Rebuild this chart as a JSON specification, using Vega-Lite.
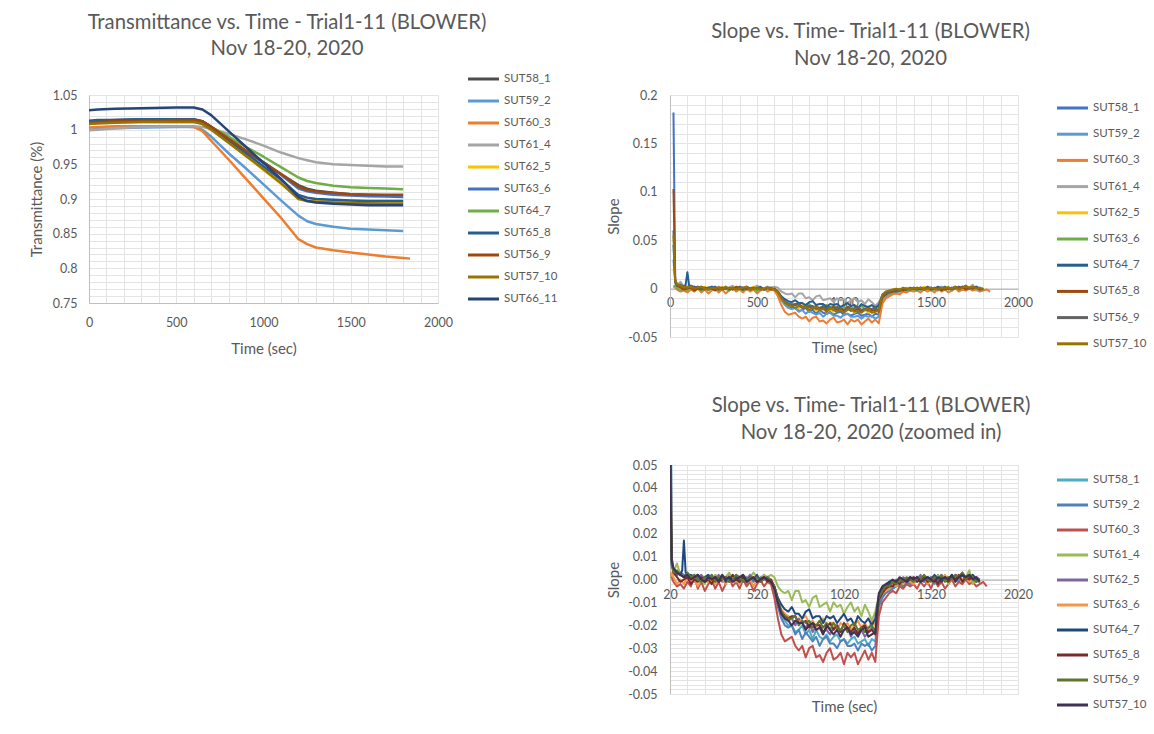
{
"$schema": "https://vega.github.io/schema/vega-lite/v6.json",
"background": "white",
"autosize": {"type": "none"},
"padding": {"left": 89, "top": 95, "right": 1065, "bottom": 639},
"config": {
  "font": "Lato",
  "view": {"stroke": null},
  "axis": {"labelFont": "Lato", "titleFont": "Lato", "labelColor": "#595959", "titleColor": "#595959", "labelFontSize": 12.5, "titleFontSize": 15, "titleFontWeight": "normal", "gridColor": "#e4e4e4", "domainColor": "#bfbfbf", "ticks": false, "labelFlush": false, "labelOverlap": false},
  "title": {"font": "Lato", "fontSize": 20.3, "fontWeight": "normal", "color": "#595959", "lineHeight": 26.5, "anchor": "middle", "frame": "group"},
  "legend": {"labelFont": "Lato", "labelFontSize": 11.5, "labelColor": "#595959", "orient": "none", "symbolType": "M -3.1 0 L 3.1 0", "symbolSize": 100, "symbolStrokeWidth": 3, "symbolOffset": 9, "labelOffset": 14, "padding": 0, "labelLimit": 200}
},
"datasets": {
"trans": [
{"t":0,"SUT58_1":1.011,"SUT59_2":1.000,"SUT60_3":1.003,"SUT61_4":0.999,"SUT62_5":1.009,"SUT63_6":1.012,"SUT64_7":1.012,"SUT65_8":1.013,"SUT56_9":1.010,"SUT57_10":1.008,"SUT66_11":1.028},
{"t":50,"SUT58_1":1.013,"SUT59_2":1.001,"SUT60_3":1.004,"SUT61_4":1.000,"SUT62_5":1.010,"SUT63_6":1.013,"SUT64_7":1.012,"SUT65_8":1.014,"SUT56_9":1.011,"SUT57_10":1.009,"SUT66_11":1.029},
{"t":150,"SUT58_1":1.014,"SUT59_2":1.002,"SUT60_3":1.005,"SUT61_4":1.002,"SUT62_5":1.011,"SUT63_6":1.013,"SUT64_7":1.013,"SUT65_8":1.014,"SUT56_9":1.012,"SUT57_10":1.010,"SUT66_11":1.030},
{"t":300,"SUT58_1":1.015,"SUT59_2":1.003,"SUT60_3":1.005,"SUT61_4":1.004,"SUT62_5":1.012,"SUT63_6":1.014,"SUT64_7":1.013,"SUT65_8":1.015,"SUT56_9":1.013,"SUT57_10":1.011,"SUT66_11":1.031},
{"t":500,"SUT58_1":1.015,"SUT59_2":1.004,"SUT60_3":1.005,"SUT61_4":1.005,"SUT62_5":1.012,"SUT63_6":1.014,"SUT64_7":1.013,"SUT65_8":1.015,"SUT56_9":1.014,"SUT57_10":1.011,"SUT66_11":1.032},
{"t":600,"SUT58_1":1.015,"SUT59_2":1.004,"SUT60_3":1.004,"SUT61_4":1.005,"SUT62_5":1.012,"SUT63_6":1.014,"SUT64_7":1.013,"SUT65_8":1.015,"SUT56_9":1.014,"SUT57_10":1.011,"SUT66_11":1.032},
{"t":650,"SUT58_1":1.012,"SUT59_2":1.000,"SUT60_3":0.998,"SUT61_4":1.004,"SUT62_5":1.009,"SUT63_6":1.012,"SUT64_7":1.011,"SUT65_8":1.012,"SUT56_9":1.012,"SUT57_10":1.008,"SUT66_11":1.029},
{"t":700,"SUT58_1":1.003,"SUT59_2":0.990,"SUT60_3":0.984,"SUT61_4":1.001,"SUT62_5":1.001,"SUT63_6":1.004,"SUT64_7":1.004,"SUT65_8":1.004,"SUT56_9":1.004,"SUT57_10":1.000,"SUT66_11":1.021},
{"t":800,"SUT58_1":0.986,"SUT59_2":0.966,"SUT60_3":0.957,"SUT61_4":0.994,"SUT62_5":0.982,"SUT63_6":0.987,"SUT64_7":0.990,"SUT65_8":0.985,"SUT56_9":0.987,"SUT57_10":0.981,"SUT66_11":0.998},
{"t":900,"SUT58_1":0.969,"SUT59_2":0.944,"SUT60_3":0.929,"SUT61_4":0.986,"SUT62_5":0.962,"SUT63_6":0.969,"SUT64_7":0.975,"SUT65_8":0.966,"SUT56_9":0.970,"SUT57_10":0.962,"SUT66_11":0.975},
{"t":1000,"SUT58_1":0.953,"SUT59_2":0.921,"SUT60_3":0.901,"SUT61_4":0.977,"SUT62_5":0.942,"SUT63_6":0.952,"SUT64_7":0.961,"SUT65_8":0.947,"SUT56_9":0.953,"SUT57_10":0.943,"SUT66_11":0.952},
{"t":1100,"SUT58_1":0.936,"SUT59_2":0.898,"SUT60_3":0.873,"SUT61_4":0.967,"SUT62_5":0.922,"SUT63_6":0.935,"SUT64_7":0.946,"SUT65_8":0.928,"SUT56_9":0.936,"SUT57_10":0.923,"SUT66_11":0.929},
{"t":1200,"SUT58_1":0.920,"SUT59_2":0.876,"SUT60_3":0.842,"SUT61_4":0.959,"SUT62_5":0.902,"SUT63_6":0.915,"SUT64_7":0.931,"SUT65_8":0.906,"SUT56_9":0.918,"SUT57_10":0.900,"SUT66_11":0.903},
{"t":1250,"SUT58_1":0.915,"SUT59_2":0.868,"SUT60_3":0.835,"SUT61_4":0.956,"SUT62_5":0.899,"SUT63_6":0.911,"SUT64_7":0.926,"SUT65_8":0.902,"SUT56_9":0.913,"SUT57_10":0.897,"SUT66_11":0.897},
{"t":1300,"SUT58_1":0.912,"SUT59_2":0.864,"SUT60_3":0.830,"SUT61_4":0.953,"SUT62_5":0.898,"SUT63_6":0.909,"SUT64_7":0.923,"SUT65_8":0.900,"SUT56_9":0.911,"SUT57_10":0.896,"SUT66_11":0.895},
{"t":1400,"SUT58_1":0.909,"SUT59_2":0.860,"SUT60_3":0.826,"SUT61_4":0.950,"SUT62_5":0.897,"SUT63_6":0.906,"SUT64_7":0.919,"SUT65_8":0.899,"SUT56_9":0.909,"SUT57_10":0.895,"SUT66_11":0.893},
{"t":1500,"SUT58_1":0.907,"SUT59_2":0.857,"SUT60_3":0.823,"SUT61_4":0.949,"SUT62_5":0.896,"SUT63_6":0.905,"SUT64_7":0.917,"SUT65_8":0.898,"SUT56_9":0.907,"SUT57_10":0.894,"SUT66_11":0.892},
{"t":1600,"SUT58_1":0.906,"SUT59_2":0.856,"SUT60_3":0.820,"SUT61_4":0.948,"SUT62_5":0.8955,"SUT63_6":0.904,"SUT64_7":0.916,"SUT65_8":0.897,"SUT56_9":0.906,"SUT57_10":0.894,"SUT66_11":0.891},
{"t":1700,"SUT58_1":0.9055,"SUT59_2":0.855,"SUT60_3":0.817,"SUT61_4":0.947,"SUT62_5":0.895,"SUT63_6":0.9035,"SUT64_7":0.915,"SUT65_8":0.897,"SUT56_9":0.906,"SUT57_10":0.893,"SUT66_11":0.891},
{"t":1800,"SUT58_1":0.905,"SUT59_2":0.854,"SUT60_3":0.815,"SUT61_4":0.947,"SUT62_5":0.895,"SUT63_6":0.903,"SUT64_7":0.914,"SUT65_8":0.897,"SUT56_9":0.906,"SUT57_10":0.893,"SUT66_11":0.891},
{"t":1840,"SUT60_3":0.814}
],
"slope": [
{"t":20,"SUT58_1":0.182,"SUT59_2":0.03,"SUT60_3":0.002,"SUT61_4":0.001,"SUT62_5":0.02,"SUT63_6":0.003,"SUT64_7":0.045,"SUT65_8":0.103,"SUT56_9":0.06,"SUT57_10":0.055},
{"t":30,"SUT58_1":0.008,"SUT59_2":0.006,"SUT60_3":0.001,"SUT61_4":0.002,"SUT62_5":0.01,"SUT63_6":0.003,"SUT64_7":0.007,"SUT65_8":0.009,"SUT56_9":0.006,"SUT57_10":0.008},
{"t":40,"SUT58_1":0.005,"SUT59_2":0.004,"SUT60_3":-0.001,"SUT61_4":0.003,"SUT62_5":0.004,"SUT63_6":0.001,"SUT64_7":0.004,"SUT65_8":0.003,"SUT56_9":0.003,"SUT57_10":0.005},
{"t":60,"SUT58_1":0.003,"SUT59_2":0.002,"SUT60_3":-0.003,"SUT61_4":0.007,"SUT62_5":0.002,"SUT63_6":-0.002,"SUT64_7":0.003,"SUT65_8":0.001,"SUT56_9":0.004,"SUT57_10":0.003},
{"t":80,"SUT58_1":0.002,"SUT59_2":0.003,"SUT60_3":-0.002,"SUT61_4":0.002,"SUT62_5":0.003,"SUT63_6":0,"SUT64_7":0.002,"SUT65_8":-0.001,"SUT56_9":0.002,"SUT57_10":0.002},
{"t":90,"SUT64_7":0.004},
{"t":100,"SUT58_1":0.001,"SUT59_2":0.002,"SUT60_3":-0.004,"SUT61_4":0.001,"SUT62_5":0.001,"SUT63_6":-0.002,"SUT64_7":0.017,"SUT65_8":0,"SUT56_9":0.001,"SUT57_10":0.001},
{"t":110,"SUT64_7":0.003},
{"t":120,"SUT58_1":0.003,"SUT59_2":0.001,"SUT60_3":-0.001,"SUT61_4":0.002,"SUT62_5":0.002,"SUT63_6":0.001,"SUT64_7":0.002,"SUT65_8":0.001,"SUT56_9":0.003,"SUT57_10":0.002},
{"t":140,"SUT58_1":0.001,"SUT59_2":0.002,"SUT60_3":-0.003,"SUT61_4":0,"SUT62_5":0.001,"SUT63_6":-0.001,"SUT64_7":0.002,"SUT65_8":-0.002,"SUT56_9":0.001,"SUT57_10":0},
{"t":160,"SUT58_1":0.002,"SUT59_2":0,"SUT60_3":0.001,"SUT61_4":0.001,"SUT62_5":-0.001,"SUT63_6":0,"SUT64_7":0.001,"SUT65_8":0,"SUT56_9":0.002,"SUT57_10":0.001},
{"t":180,"SUT58_1":0,"SUT59_2":0.001,"SUT60_3":-0.004,"SUT61_4":0.002,"SUT62_5":0.001,"SUT63_6":-0.003,"SUT64_7":0.002,"SUT65_8":-0.001,"SUT56_9":0,"SUT57_10":0.002},
{"t":200,"SUT58_1":0.001,"SUT59_2":-0.001,"SUT60_3":-0.001,"SUT61_4":0,"SUT62_5":0.002,"SUT63_6":0,"SUT64_7":0,"SUT65_8":0.001,"SUT56_9":-0.001,"SUT57_10":0},
{"t":220,"SUT58_1":-0.001,"SUT59_2":0.001,"SUT60_3":-0.005,"SUT61_4":-0.002,"SUT62_5":0,"SUT63_6":0.001,"SUT64_7":0.001,"SUT65_8":-0.001,"SUT56_9":0.001,"SUT57_10":-0.001},
{"t":240,"SUT58_1":0.002,"SUT59_2":0,"SUT60_3":-0.002,"SUT61_4":0.001,"SUT62_5":-0.001,"SUT63_6":-0.001,"SUT64_7":0.002,"SUT65_8":0,"SUT56_9":0,"SUT57_10":0.001},
{"t":260,"SUT58_1":0,"SUT59_2":0.002,"SUT60_3":0,"SUT61_4":0,"SUT62_5":0.001,"SUT63_6":0,"SUT64_7":0,"SUT65_8":-0.002,"SUT56_9":0.002,"SUT57_10":0},
{"t":280,"SUT58_1":0.001,"SUT59_2":-0.001,"SUT60_3":-0.004,"SUT61_4":0.002,"SUT62_5":0,"SUT63_6":-0.002,"SUT64_7":0.001,"SUT65_8":0.001,"SUT56_9":-0.001,"SUT57_10":0.001},
{"t":300,"SUT58_1":-0.001,"SUT59_2":0,"SUT60_3":-0.001,"SUT61_4":0.001,"SUT62_5":0.002,"SUT63_6":0.001,"SUT64_7":0,"SUT65_8":-0.001,"SUT56_9":0.001,"SUT57_10":-0.001},
{"t":320,"SUT58_1":0.001,"SUT59_2":0.001,"SUT60_3":-0.005,"SUT61_4":0,"SUT62_5":-0.001,"SUT63_6":0,"SUT64_7":0.002,"SUT65_8":0,"SUT56_9":0,"SUT57_10":0.002},
{"t":340,"SUT58_1":0,"SUT59_2":-0.002,"SUT60_3":-0.002,"SUT61_4":0.001,"SUT62_5":0.001,"SUT63_6":-0.002,"SUT64_7":-0.001,"SUT65_8":0.001,"SUT56_9":0.001,"SUT57_10":0},
{"t":360,"SUT58_1":0.002,"SUT59_2":0.001,"SUT60_3":0.001,"SUT61_4":0.003,"SUT62_5":0,"SUT63_6":0.001,"SUT64_7":0.001,"SUT65_8":-0.001,"SUT56_9":-0.001,"SUT57_10":0.001},
{"t":380,"SUT58_1":-0.001,"SUT59_2":0,"SUT60_3":-0.003,"SUT61_4":0,"SUT62_5":0.002,"SUT63_6":-0.001,"SUT64_7":0,"SUT65_8":0.002,"SUT56_9":0,"SUT57_10":-0.001},
{"t":400,"SUT58_1":0.001,"SUT59_2":0.002,"SUT60_3":-0.001,"SUT61_4":-0.001,"SUT62_5":0,"SUT63_6":0,"SUT64_7":0.001,"SUT65_8":0,"SUT56_9":0.002,"SUT57_10":0},
{"t":420,"SUT58_1":0,"SUT59_2":-0.001,"SUT60_3":-0.004,"SUT61_4":0.001,"SUT62_5":0.001,"SUT63_6":-0.002,"SUT64_7":-0.001,"SUT65_8":-0.001,"SUT56_9":0.001,"SUT57_10":0.001},
{"t":440,"SUT58_1":0.001,"SUT59_2":0,"SUT60_3":0,"SUT61_4":0.002,"SUT62_5":-0.001,"SUT63_6":0.001,"SUT64_7":0.002,"SUT65_8":0.001,"SUT56_9":-0.001,"SUT57_10":0.002},
{"t":460,"SUT58_1":-0.002,"SUT59_2":0.001,"SUT60_3":-0.003,"SUT61_4":0,"SUT62_5":0,"SUT63_6":-0.001,"SUT64_7":0,"SUT65_8":-0.001,"SUT56_9":0,"SUT57_10":-0.001},
{"t":480,"SUT58_1":0.001,"SUT59_2":0,"SUT60_3":-0.001,"SUT61_4":0.001,"SUT62_5":0.002,"SUT63_6":0,"SUT64_7":0.001,"SUT65_8":0,"SUT56_9":0.001,"SUT57_10":0},
{"t":500,"SUT58_1":0,"SUT59_2":-0.001,"SUT60_3":-0.005,"SUT61_4":0.003,"SUT62_5":0,"SUT63_6":-0.003,"SUT64_7":0,"SUT65_8":0.001,"SUT56_9":0,"SUT57_10":0.001},
{"t":520,"SUT58_1":0.001,"SUT59_2":0.001,"SUT60_3":-0.002,"SUT61_4":0.001,"SUT62_5":-0.001,"SUT63_6":0,"SUT64_7":0.002,"SUT65_8":-0.001,"SUT56_9":0.001,"SUT57_10":-0.001},
{"t":540,"SUT58_1":-0.001,"SUT59_2":0,"SUT60_3":0,"SUT61_4":0,"SUT62_5":0.001,"SUT63_6":-0.001,"SUT64_7":-0.001,"SUT65_8":0,"SUT56_9":-0.001,"SUT57_10":0},
{"t":560,"SUT58_1":0.001,"SUT59_2":0.002,"SUT60_3":-0.003,"SUT61_4":0.002,"SUT62_5":0,"SUT63_6":0.001,"SUT64_7":0.001,"SUT65_8":0.001,"SUT56_9":0,"SUT57_10":0.001},
{"t":580,"SUT58_1":0,"SUT59_2":0,"SUT60_3":-0.001,"SUT61_4":0.001,"SUT62_5":0.001,"SUT63_6":-0.001,"SUT64_7":0,"SUT65_8":-0.001,"SUT56_9":0.001,"SUT57_10":0},
{"t":600,"SUT58_1":-0.001,"SUT59_2":-0.001,"SUT60_3":-0.002,"SUT61_4":0.002,"SUT62_5":0,"SUT63_6":0,"SUT64_7":-0.001,"SUT65_8":0,"SUT56_9":-0.001,"SUT57_10":-0.001},
{"t":620,"SUT58_1":-0.004,"SUT59_2":-0.005,"SUT60_3":-0.008,"SUT61_4":0.001,"SUT62_5":-0.004,"SUT63_6":-0.003,"SUT64_7":-0.003,"SUT65_8":-0.003,"SUT56_9":-0.003,"SUT57_10":-0.004},
{"t":640,"SUT58_1":-0.011,"SUT59_2":-0.012,"SUT60_3":-0.017,"SUT61_4":-0.003,"SUT62_5":-0.01,"SUT63_6":-0.009,"SUT64_7":-0.008,"SUT65_8":-0.01,"SUT56_9":-0.009,"SUT57_10":-0.01},
{"t":660,"SUT58_1":-0.016,"SUT59_2":-0.017,"SUT60_3":-0.024,"SUT61_4":-0.005,"SUT62_5":-0.015,"SUT63_6":-0.013,"SUT64_7":-0.011,"SUT65_8":-0.014,"SUT56_9":-0.014,"SUT57_10":-0.015},
{"t":680,"SUT58_1":-0.018,"SUT59_2":-0.02,"SUT60_3":-0.027,"SUT61_4":-0.006,"SUT62_5":-0.017,"SUT63_6":-0.015,"SUT64_7":-0.013,"SUT65_8":-0.016,"SUT56_9":-0.016,"SUT57_10":-0.017},
{"t":700,"SUT58_1":-0.02,"SUT59_2":-0.021,"SUT60_3":-0.026,"SUT61_4":-0.005,"SUT62_5":-0.018,"SUT63_6":-0.016,"SUT64_7":-0.014,"SUT65_8":-0.017,"SUT56_9":-0.017,"SUT57_10":-0.018},
{"t":720,"SUT58_1":-0.02,"SUT59_2":-0.02,"SUT60_3":-0.025,"SUT61_4":-0.009,"SUT62_5":-0.017,"SUT63_6":-0.017,"SUT64_7":-0.012,"SUT65_8":-0.016,"SUT56_9":-0.017,"SUT57_10":-0.02},
{"t":740,"SUT58_1":-0.023,"SUT59_2":-0.024,"SUT60_3":-0.029,"SUT61_4":-0.005,"SUT62_5":-0.02,"SUT63_6":-0.016,"SUT64_7":-0.015,"SUT65_8":-0.016,"SUT56_9":-0.016,"SUT57_10":-0.018},
{"t":760,"SUT58_1":-0.022,"SUT59_2":-0.022,"SUT60_3":-0.031,"SUT61_4":-0.005,"SUT62_5":-0.017,"SUT63_6":-0.019,"SUT64_7":-0.015,"SUT65_8":-0.019,"SUT56_9":-0.02,"SUT57_10":-0.019},
{"t":780,"SUT58_1":-0.02,"SUT59_2":-0.026,"SUT60_3":-0.029,"SUT61_4":-0.01,"SUT62_5":-0.019,"SUT63_6":-0.017,"SUT64_7":-0.017,"SUT65_8":-0.019,"SUT56_9":-0.018,"SUT57_10":-0.019},
{"t":800,"SUT58_1":-0.024,"SUT59_2":-0.023,"SUT60_3":-0.034,"SUT61_4":-0.009,"SUT62_5":-0.021,"SUT63_6":-0.016,"SUT64_7":-0.014,"SUT65_8":-0.018,"SUT56_9":-0.019,"SUT57_10":-0.022},
{"t":820,"SUT58_1":-0.022,"SUT59_2":-0.025,"SUT60_3":-0.03,"SUT61_4":-0.012,"SUT62_5":-0.019,"SUT63_6":-0.019,"SUT64_7":-0.013,"SUT65_8":-0.021,"SUT56_9":-0.018,"SUT57_10":-0.02},
{"t":840,"SUT58_1":-0.026,"SUT59_2":-0.027,"SUT60_3":-0.029,"SUT61_4":-0.008,"SUT62_5":-0.023,"SUT63_6":-0.018,"SUT64_7":-0.017,"SUT65_8":-0.019,"SUT56_9":-0.021,"SUT57_10":-0.019},
{"t":860,"SUT58_1":-0.022,"SUT59_2":-0.025,"SUT60_3":-0.034,"SUT61_4":-0.007,"SUT62_5":-0.02,"SUT63_6":-0.021,"SUT64_7":-0.016,"SUT65_8":-0.02,"SUT56_9":-0.02,"SUT57_10":-0.022},
{"t":880,"SUT58_1":-0.025,"SUT59_2":-0.029,"SUT60_3":-0.033,"SUT61_4":-0.012,"SUT62_5":-0.02,"SUT63_6":-0.018,"SUT64_7":-0.016,"SUT65_8":-0.02,"SUT56_9":-0.018,"SUT57_10":-0.021},
{"t":900,"SUT58_1":-0.026,"SUT59_2":-0.026,"SUT60_3":-0.036,"SUT61_4":-0.011,"SUT62_5":-0.023,"SUT63_6":-0.017,"SUT64_7":-0.019,"SUT65_8":-0.023,"SUT56_9":-0.021,"SUT57_10":-0.024},
{"t":920,"SUT58_1":-0.024,"SUT59_2":-0.025,"SUT60_3":-0.032,"SUT61_4":-0.01,"SUT62_5":-0.022,"SUT63_6":-0.02,"SUT64_7":-0.016,"SUT65_8":-0.021,"SUT56_9":-0.019,"SUT57_10":-0.02},
{"t":940,"SUT58_1":-0.027,"SUT59_2":-0.028,"SUT60_3":-0.03,"SUT61_4":-0.014,"SUT62_5":-0.024,"SUT63_6":-0.019,"SUT64_7":-0.017,"SUT65_8":-0.019,"SUT56_9":-0.022,"SUT57_10":-0.022},
{"t":960,"SUT58_1":-0.025,"SUT59_2":-0.028,"SUT60_3":-0.035,"SUT61_4":-0.01,"SUT62_5":-0.021,"SUT63_6":-0.019,"SUT64_7":-0.016,"SUT65_8":-0.022,"SUT56_9":-0.019,"SUT57_10":-0.024},
{"t":980,"SUT58_1":-0.024,"SUT59_2":-0.03,"SUT60_3":-0.034,"SUT61_4":-0.012,"SUT62_5":-0.02,"SUT63_6":-0.022,"SUT64_7":-0.019,"SUT65_8":-0.02,"SUT56_9":-0.021,"SUT57_10":-0.022},
{"t":1000,"SUT58_1":-0.027,"SUT59_2":-0.027,"SUT60_3":-0.032,"SUT61_4":-0.011,"SUT62_5":-0.023,"SUT63_6":-0.019,"SUT64_7":-0.017,"SUT65_8":-0.023,"SUT56_9":-0.022,"SUT57_10":-0.025},
{"t":1020,"SUT58_1":-0.026,"SUT59_2":-0.026,"SUT60_3":-0.037,"SUT61_4":-0.015,"SUT62_5":-0.022,"SUT63_6":-0.02,"SUT64_7":-0.015,"SUT65_8":-0.019,"SUT56_9":-0.02,"SUT57_10":-0.022},
{"t":1040,"SUT58_1":-0.028,"SUT59_2":-0.029,"SUT60_3":-0.032,"SUT61_4":-0.012,"SUT62_5":-0.021,"SUT63_6":-0.019,"SUT64_7":-0.018,"SUT65_8":-0.021,"SUT56_9":-0.023,"SUT57_10":-0.021},
{"t":1060,"SUT58_1":-0.026,"SUT59_2":-0.029,"SUT60_3":-0.034,"SUT61_4":-0.01,"SUT62_5":-0.025,"SUT63_6":-0.022,"SUT64_7":-0.017,"SUT65_8":-0.023,"SUT56_9":-0.02,"SUT57_10":-0.024},
{"t":1080,"SUT58_1":-0.025,"SUT59_2":-0.028,"SUT60_3":-0.032,"SUT61_4":-0.014,"SUT62_5":-0.022,"SUT63_6":-0.02,"SUT64_7":-0.02,"SUT65_8":-0.021,"SUT56_9":-0.019,"SUT57_10":-0.023},
{"t":1100,"SUT58_1":-0.028,"SUT59_2":-0.031,"SUT60_3":-0.037,"SUT61_4":-0.012,"SUT62_5":-0.023,"SUT63_6":-0.018,"SUT64_7":-0.016,"SUT65_8":-0.024,"SUT56_9":-0.022,"SUT57_10":-0.025},
{"t":1120,"SUT58_1":-0.027,"SUT59_2":-0.028,"SUT60_3":-0.034,"SUT61_4":-0.016,"SUT62_5":-0.022,"SUT63_6":-0.021,"SUT64_7":-0.018,"SUT65_8":-0.021,"SUT56_9":-0.021,"SUT57_10":-0.022},
{"t":1140,"SUT58_1":-0.026,"SUT59_2":-0.029,"SUT60_3":-0.031,"SUT61_4":-0.011,"SUT62_5":-0.025,"SUT63_6":-0.019,"SUT64_7":-0.019,"SUT65_8":-0.02,"SUT56_9":-0.023,"SUT57_10":-0.021},
{"t":1160,"SUT58_1":-0.029,"SUT59_2":-0.028,"SUT60_3":-0.035,"SUT61_4":-0.014,"SUT62_5":-0.023,"SUT63_6":-0.022,"SUT64_7":-0.017,"SUT65_8":-0.023,"SUT56_9":-0.021,"SUT57_10":-0.025},
{"t":1180,"SUT58_1":-0.026,"SUT59_2":-0.031,"SUT60_3":-0.032,"SUT61_4":-0.018,"SUT62_5":-0.021,"SUT63_6":-0.018,"SUT64_7":-0.02,"SUT65_8":-0.022,"SUT56_9":-0.02,"SUT57_10":-0.024},
{"t":1200,"SUT58_1":-0.027,"SUT59_2":-0.029,"SUT60_3":-0.036,"SUT61_4":-0.014,"SUT62_5":-0.024,"SUT63_6":-0.02,"SUT64_7":-0.017,"SUT65_8":-0.024,"SUT56_9":-0.023,"SUT57_10":-0.023},
{"t":1220,"SUT58_1":-0.01,"SUT59_2":-0.012,"SUT60_3":-0.016,"SUT61_4":-0.007,"SUT62_5":-0.008,"SUT63_6":-0.009,"SUT64_7":-0.007,"SUT65_8":-0.009,"SUT56_9":-0.008,"SUT57_10":-0.006},
{"t":1240,"SUT58_1":-0.007,"SUT59_2":-0.008,"SUT60_3":-0.01,"SUT61_4":-0.005,"SUT62_5":-0.004,"SUT63_6":-0.006,"SUT64_7":-0.004,"SUT65_8":-0.006,"SUT56_9":-0.005,"SUT57_10":-0.003},
{"t":1260,"SUT58_1":-0.005,"SUT59_2":-0.006,"SUT60_3":-0.008,"SUT61_4":-0.004,"SUT62_5":-0.003,"SUT63_6":-0.005,"SUT64_7":-0.003,"SUT65_8":-0.004,"SUT56_9":-0.003,"SUT57_10":-0.002},
{"t":1280,"SUT58_1":-0.004,"SUT59_2":-0.005,"SUT60_3":-0.006,"SUT61_4":-0.003,"SUT62_5":-0.001,"SUT63_6":-0.004,"SUT64_7":-0.002,"SUT65_8":-0.003,"SUT56_9":-0.003,"SUT57_10":-0.001},
{"t":1300,"SUT58_1":-0.003,"SUT59_2":-0.004,"SUT60_3":-0.005,"SUT61_4":-0.002,"SUT62_5":-0.002,"SUT63_6":-0.002,"SUT64_7":-0.001,"SUT65_8":-0.003,"SUT56_9":-0.001,"SUT57_10":0},
{"t":1320,"SUT58_1":-0.002,"SUT59_2":-0.003,"SUT60_3":-0.006,"SUT61_4":-0.001,"SUT62_5":0,"SUT63_6":-0.003,"SUT64_7":-0.002,"SUT65_8":-0.001,"SUT56_9":-0.002,"SUT57_10":-0.001},
{"t":1340,"SUT58_1":-0.003,"SUT59_2":-0.002,"SUT60_3":-0.003,"SUT61_4":-0.002,"SUT62_5":-0.001,"SUT63_6":-0.001,"SUT64_7":0,"SUT65_8":-0.002,"SUT56_9":0,"SUT57_10":0.001},
{"t":1360,"SUT58_1":-0.001,"SUT59_2":-0.003,"SUT60_3":-0.004,"SUT61_4":0,"SUT62_5":0.001,"SUT63_6":-0.002,"SUT64_7":-0.001,"SUT65_8":0,"SUT56_9":-0.001,"SUT57_10":0},
{"t":1380,"SUT58_1":-0.002,"SUT59_2":-0.001,"SUT60_3":-0.002,"SUT61_4":-0.001,"SUT62_5":0,"SUT63_6":0,"SUT64_7":0,"SUT65_8":-0.001,"SUT56_9":0.001,"SUT57_10":-0.001},
{"t":1400,"SUT58_1":0,"SUT59_2":-0.002,"SUT60_3":-0.003,"SUT61_4":0.001,"SUT62_5":-0.001,"SUT63_6":-0.001,"SUT64_7":0.001,"SUT65_8":0,"SUT56_9":0,"SUT57_10":0.001},
{"t":1420,"SUT58_1":-0.001,"SUT59_2":0,"SUT60_3":-0.002,"SUT61_4":0,"SUT62_5":0.001,"SUT63_6":-0.002,"SUT64_7":0,"SUT65_8":0.001,"SUT56_9":-0.001,"SUT57_10":0},
{"t":1440,"SUT58_1":0.001,"SUT59_2":-0.001,"SUT60_3":-0.004,"SUT61_4":0.001,"SUT62_5":0,"SUT63_6":0,"SUT64_7":0.001,"SUT65_8":-0.001,"SUT56_9":0.001,"SUT57_10":0.001},
{"t":1460,"SUT58_1":0,"SUT59_2":0.001,"SUT60_3":-0.001,"SUT61_4":-0.001,"SUT62_5":0.002,"SUT63_6":-0.001,"SUT64_7":-0.001,"SUT65_8":0,"SUT56_9":0,"SUT57_10":-0.001},
{"t":1480,"SUT58_1":-0.001,"SUT59_2":0,"SUT60_3":-0.003,"SUT61_4":0.002,"SUT62_5":-0.001,"SUT63_6":0.001,"SUT64_7":0,"SUT65_8":0.001,"SUT56_9":0.002,"SUT57_10":0},
{"t":1500,"SUT58_1":0.001,"SUT59_2":-0.002,"SUT60_3":-0.001,"SUT61_4":0,"SUT62_5":0,"SUT63_6":-0.002,"SUT64_7":0.001,"SUT65_8":-0.001,"SUT56_9":0,"SUT57_10":0.001},
{"t":1520,"SUT58_1":0,"SUT59_2":0.001,"SUT60_3":-0.004,"SUT61_4":0.001,"SUT62_5":0.001,"SUT63_6":0,"SUT64_7":0,"SUT65_8":0,"SUT56_9":-0.001,"SUT57_10":0},
{"t":1540,"SUT58_1":-0.002,"SUT59_2":0,"SUT60_3":0,"SUT61_4":-0.001,"SUT62_5":0,"SUT63_6":0.001,"SUT64_7":0.002,"SUT65_8":0.001,"SUT56_9":0.001,"SUT57_10":-0.001},
{"t":1560,"SUT58_1":0.001,"SUT59_2":0.002,"SUT60_3":-0.003,"SUT61_4":0.002,"SUT62_5":-0.001,"SUT63_6":-0.001,"SUT64_7":0,"SUT65_8":-0.002,"SUT56_9":0,"SUT57_10":0.001},
{"t":1580,"SUT58_1":0,"SUT59_2":-0.001,"SUT60_3":-0.001,"SUT61_4":0,"SUT62_5":0.002,"SUT63_6":0,"SUT64_7":-0.001,"SUT65_8":0.001,"SUT56_9":0.002,"SUT57_10":0},
{"t":1600,"SUT58_1":0.001,"SUT59_2":0,"SUT60_3":-0.004,"SUT61_4":0.001,"SUT62_5":0,"SUT63_6":0.002,"SUT64_7":0.001,"SUT65_8":0,"SUT56_9":-0.001,"SUT57_10":0.001},
{"t":1620,"SUT58_1":-0.001,"SUT59_2":0.001,"SUT60_3":-0.002,"SUT61_4":-0.002,"SUT62_5":0.001,"SUT63_6":-0.001,"SUT64_7":0,"SUT65_8":-0.001,"SUT56_9":0.001,"SUT57_10":0},
{"t":1640,"SUT58_1":0.002,"SUT59_2":0,"SUT60_3":0,"SUT61_4":0.001,"SUT62_5":0,"SUT63_6":0.001,"SUT64_7":0.002,"SUT65_8":0.001,"SUT56_9":0,"SUT57_10":0.002},
{"t":1660,"SUT58_1":0,"SUT59_2":0.001,"SUT60_3":-0.003,"SUT61_4":-0.001,"SUT62_5":0.002,"SUT63_6":0,"SUT64_7":0,"SUT65_8":0,"SUT56_9":0.002,"SUT57_10":-0.001},
{"t":1680,"SUT58_1":0.001,"SUT59_2":-0.001,"SUT60_3":-0.001,"SUT61_4":0.002,"SUT62_5":0.001,"SUT63_6":0.002,"SUT64_7":0.001,"SUT65_8":0.002,"SUT56_9":0.001,"SUT57_10":0.001},
{"t":1700,"SUT58_1":-0.001,"SUT59_2":0.002,"SUT60_3":-0.002,"SUT61_4":-0.001,"SUT62_5":0.003,"SUT63_6":0,"SUT64_7":0.002,"SUT65_8":-0.001,"SUT56_9":0.003,"SUT57_10":0.002},
{"t":1720,"SUT58_1":0.001,"SUT59_2":0,"SUT60_3":0,"SUT61_4":0.001,"SUT62_5":0.001,"SUT63_6":0.001,"SUT64_7":0,"SUT65_8":0.001,"SUT56_9":0,"SUT57_10":0.001},
{"t":1740,"SUT58_1":0,"SUT59_2":0.001,"SUT60_3":-0.002,"SUT61_4":0.004,"SUT62_5":0.002,"SUT63_6":-0.001,"SUT64_7":0.001,"SUT65_8":0,"SUT56_9":0.002,"SUT57_10":0.002},
{"t":1760,"SUT58_1":0.002,"SUT59_2":-0.001,"SUT60_3":-0.001,"SUT61_4":-0.002,"SUT62_5":0,"SUT63_6":0.001,"SUT64_7":0.002,"SUT65_8":0.001,"SUT56_9":0.001,"SUT57_10":0},
{"t":1780,"SUT58_1":0,"SUT59_2":0.001,"SUT60_3":-0.003,"SUT61_4":0,"SUT62_5":0.001,"SUT63_6":0,"SUT64_7":0,"SUT65_8":-0.001,"SUT56_9":-0.001,"SUT57_10":0.001},
{"t":1800,"SUT58_1":-0.001,"SUT59_2":0,"SUT60_3":-0.002,"SUT61_4":-0.001,"SUT62_5":0,"SUT63_6":-0.001,"SUT64_7":-0.001,"SUT65_8":0,"SUT56_9":0,"SUT57_10":-0.001},
{"t":1820,"SUT60_3":-0.001},
{"t":1840,"SUT60_3":-0.003}
]
},
"resolve": {"scale": {"color": "independent"}, "legend": {"color": "independent"}},
"bounds": "flush",
"spacing": 232,
"hconcat": [
{
  "width": 349, "height": 208,
  "data": {"name": "trans"},
  "transform": [
    {"fold": ["SUT58_1","SUT59_2","SUT60_3","SUT61_4","SUT62_5","SUT63_6","SUT64_7","SUT65_8","SUT56_9","SUT57_10","SUT66_11"], "as": ["series","v"]},
    {"filter": {"field": "v", "valid": true}}
  ],
  "title": {"text": ["Transmittance vs. Time - Trial1-11 (BLOWER)", "Nov 18-20, 2020"], "dx": 23.5, "offset": 13},
  "mark": {"type": "line", "strokeWidth": 2.5, "clip": true, "strokeJoin": "round"},
  "encoding": {
    "x": {"field": "t", "type": "quantitative", "scale": {"domain": [0, 2000], "nice": false, "zero": false},
      "axis": {"values": [0,100,200,300,400,500,600,700,800,900,1000,1100,1200,1300,1400,1500,1600,1700,1800,1900,2000], "labelExpr": "datum.value % 500 == 0 ? datum.value + '' : ''", "grid": true, "domain": true, "labelPadding": 13, "title": "Time (sec)", "titleY": 45, "titleBaseline": "middle"}},
    "y": {"field": "v", "type": "quantitative", "scale": {"domain": [0.75, 1.05], "nice": false, "zero": false},
      "axis": {"values": [0.75,0.76,0.77,0.78,0.79,0.8,0.81,0.82,0.83,0.84,0.85,0.86,0.87,0.88,0.89,0.9,0.91,0.92,0.93,0.94,0.95,0.96,0.97,0.98,0.99,1,1.01,1.02,1.03,1.04,1.05], "labelExpr": "round(datum.value*100) % 5 == 0 ? datum.value + '' : ''", "grid": true, "domain": true, "labelPadding": 12, "title": "Transmittance (%)", "titleX": -53, "titleY": 104, "titleBaseline": "middle"}},
    "color": {"field": "series", "type": "nominal",
      "scale": {"domain": ["SUT58_1","SUT59_2","SUT60_3","SUT61_4","SUT62_5","SUT63_6","SUT64_7","SUT65_8","SUT56_9","SUT57_10","SUT66_11"], "range": ["#4d4d4d","#5b9bd5","#ed7d31","#a5a5a5","#ffc000","#4472c4","#70ad47","#255e91","#9e480e","#997300","#264478"]},
      "legend": {"title": null, "legendX": 379, "legendY": -22.5, "rowPadding": 9}}
  }
},
{
  "resolve": {"scale": {"color": "independent"}, "legend": {"color": "independent"}},
  "bounds": "flush",
  "spacing": 128,
  "vconcat": [
  {
    "width": 348, "height": 242,
    "data": {"name": "slope"},
    "transform": [
      {"fold": ["SUT58_1","SUT59_2","SUT60_3","SUT61_4","SUT62_5","SUT63_6","SUT64_7","SUT65_8","SUT56_9","SUT57_10"], "as": ["series","v"]},
      {"filter": {"field": "v", "valid": true}}
    ],
    "title": {"text": ["Slope vs. Time- Trial1-11 (BLOWER)", "Nov 18-20, 2020"], "dx": 26.5, "offset": 20},
    "resolve": {"axis": {"x": "independent"}},
    "layer": [
      {
        "mark": {"type": "point", "opacity": 0, "clip": true},
        "encoding": {
          "x": {"field": "t", "type": "quantitative", "scale": {"domain": [0, 2000], "nice": false, "zero": false},
            "axis": {"orient": "bottom", "values": [0,100,200,300,400,500,600,700,800,900,1000,1100,1200,1300,1400,1500,1600,1700,1800,1900,2000], "grid": true, "labels": false, "domain": false, "title": null}},
          "y": {"field": "v", "type": "quantitative", "scale": {"domain": [-0.05, 0.2], "nice": false, "zero": false},
            "axis": {"values": [-0.05,-0.04,-0.03,-0.02,-0.01,0,0.01,0.02,0.03,0.04,0.05,0.06,0.07,0.08,0.09,0.1,0.11,0.12,0.13,0.14,0.15,0.16,0.17,0.18,0.19,0.2], "labelExpr": "round(datum.value*100) % 5 == 0 ? datum.value + '' : ''", "grid": true, "domain": true, "labelPadding": 13, "title": "Slope", "titleX": -57, "titleY": 121, "titleBaseline": "middle"}}
        }
      },
      {
        "mark": {"type": "line", "strokeWidth": 2, "clip": true, "strokeJoin": "round"},
        "encoding": {
          "x": {"field": "t", "type": "quantitative", "scale": {"domain": [0, 2000], "nice": false, "zero": false},
            "axis": {"orient": "bottom", "values": [0,500,1000,1500,2000], "format": "d", "grid": false, "domain": true, "domainColor": "#a6a6a6", "offset": -48.4, "labelPadding": 8, "title": "Time (sec)", "titleY": 58.4, "titleBaseline": "middle"}},
          "y": {"field": "v", "type": "quantitative", "scale": {"domain": [-0.05, 0.2], "nice": false, "zero": false},
            "axis": {"values": [-0.05,-0.04,-0.03,-0.02,-0.01,0,0.01,0.02,0.03,0.04,0.05,0.06,0.07,0.08,0.09,0.1,0.11,0.12,0.13,0.14,0.15,0.16,0.17,0.18,0.19,0.2], "labelExpr": "round(datum.value*100) % 5 == 0 ? datum.value + '' : ''", "grid": true, "domain": true, "labelPadding": 13, "title": "Slope", "titleX": -57, "titleY": 121, "titleBaseline": "middle"}},
          "color": {"field": "series", "type": "nominal",
            "scale": {"domain": ["SUT58_1","SUT59_2","SUT60_3","SUT61_4","SUT62_5","SUT63_6","SUT64_7","SUT65_8","SUT56_9","SUT57_10"], "range": ["#4472c4","#5b9bd5","#ed7d31","#a5a5a5","#ffc000","#70ad47","#255e91","#9e480e","#636363","#997300"]},
            "legend": {"title": null, "legendX": 387, "legendY": 6.5, "rowPadding": 13.2}}
        }
      }
    ]
  },
  {
    "width": 348, "height": 229,
    "data": {"name": "slope"},
    "transform": [
      {"fold": ["SUT58_1","SUT59_2","SUT60_3","SUT61_4","SUT62_5","SUT63_6","SUT64_7","SUT65_8","SUT56_9","SUT57_10"], "as": ["series","v"]},
      {"filter": {"field": "v", "valid": true}}
    ],
    "title": {"text": ["Slope vs. Time- Trial1-11 (BLOWER)", "Nov 18-20, 2020 (zoomed in)"], "dx": 27, "offset": 16},
    "resolve": {"axis": {"x": "independent"}},
    "layer": [
      {
        "mark": {"type": "point", "opacity": 0, "clip": true},
        "encoding": {
          "x": {"field": "t", "type": "quantitative", "scale": {"domain": [20, 2020], "nice": false, "zero": false},
            "axis": {"orient": "bottom", "values": [20,120,220,320,420,520,620,720,820,920,1020,1120,1220,1320,1420,1520,1620,1720,1820,1920,2020], "grid": true, "labels": false, "domain": false, "title": null}},
          "y": {"field": "v", "type": "quantitative", "scale": {"domain": [-0.05, 0.05], "nice": false, "zero": false},
            "axis": {"values": [-0.05,-0.048,-0.046,-0.044,-0.042,-0.04,-0.038,-0.036,-0.034,-0.032,-0.03,-0.028,-0.026,-0.024,-0.022,-0.02,-0.018,-0.016,-0.014,-0.012,-0.01,-0.008,-0.006,-0.004,-0.002,0,0.002,0.004,0.006,0.008,0.01,0.012,0.014,0.016,0.018,0.02,0.022,0.024,0.026,0.028,0.03,0.032,0.034,0.036,0.038,0.04,0.042,0.044,0.046,0.048,0.05], "labelExpr": "round(datum.value*1000) % 10 == 0 ? replace(format(datum.value, '.2f'), '\u2212', '-') : ''", "grid": true, "domain": true, "labelPadding": 13, "title": "Slope", "titleX": -57, "titleY": 114.5, "titleBaseline": "middle"}}
        }
      },
      {
        "mark": {"type": "line", "strokeWidth": 2, "clip": true, "strokeJoin": "round"},
        "encoding": {
          "x": {"field": "t", "type": "quantitative", "scale": {"domain": [20, 2020], "nice": false, "zero": false},
            "axis": {"orient": "bottom", "values": [20,520,1020,1520,2020], "format": "d", "grid": false, "domain": true, "domainColor": "#a6a6a6", "offset": -114.5, "labelPadding": 9, "title": "Time (sec)", "titleY": 126.5, "titleBaseline": "middle"}},
          "y": {"field": "v", "type": "quantitative", "scale": {"domain": [-0.05, 0.05], "nice": false, "zero": false},
            "axis": {"values": [-0.05,-0.048,-0.046,-0.044,-0.042,-0.04,-0.038,-0.036,-0.034,-0.032,-0.03,-0.028,-0.026,-0.024,-0.022,-0.02,-0.018,-0.016,-0.014,-0.012,-0.01,-0.008,-0.006,-0.004,-0.002,0,0.002,0.004,0.006,0.008,0.01,0.012,0.014,0.016,0.018,0.02,0.022,0.024,0.026,0.028,0.03,0.032,0.034,0.036,0.038,0.04,0.042,0.044,0.046,0.048,0.05], "labelExpr": "round(datum.value*1000) % 10 == 0 ? replace(format(datum.value, '.2f'), '\u2212', '-') : ''", "grid": true, "domain": true, "labelPadding": 13, "title": "Slope", "titleX": -57, "titleY": 114.5, "titleBaseline": "middle"}},
          "color": {"field": "series", "type": "nominal",
            "scale": {"domain": ["SUT58_1","SUT59_2","SUT60_3","SUT61_4","SUT62_5","SUT63_6","SUT64_7","SUT65_8","SUT56_9","SUT57_10"], "range": ["#4bacc6","#4f81bd","#c0504d","#9bbb59","#8064a2","#f79646","#1f497d","#772c2a","#5f7530","#3f3151"]},
            "legend": {"title": null, "legendX": 387, "legendY": 8.5, "rowPadding": 12}}
        }
      }
    ]
  }
  ]
}
]
}
